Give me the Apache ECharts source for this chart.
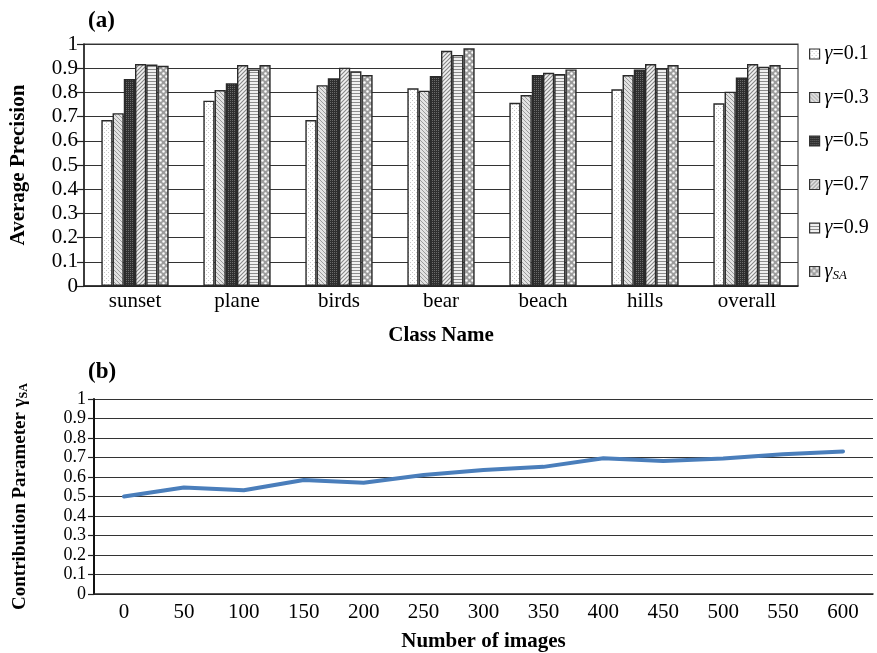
<!DOCTYPE html>
<html>
<head>
<meta charset="utf-8">
<script src="https://cdn.jsdelivr.net/npm/echarts@6/dist/echarts.min.js"></script>
<style>html,body{margin:0;padding:0;background:#fff;}#chart{width:877px;height:653px;}</style>
</head>
<body>
<div id="chart"></div>
<script>
// ---- data ----
const classNames = ['sunset', 'plane', 'birds', 'bear', 'beach', 'hills', 'overall'];
const g01 = [0.686, 0.766, 0.686, 0.817, 0.757, 0.813, 0.755];
const g03 = [0.714, 0.810, 0.830, 0.807, 0.789, 0.872, 0.803];
const g05 = [0.855, 0.838, 0.858, 0.868, 0.872, 0.895, 0.862];
const g07 = [0.917, 0.913, 0.902, 0.972, 0.881, 0.917, 0.917];
const g09 = [0.915, 0.895, 0.887, 0.955, 0.876, 0.900, 0.906];
const gSA = [0.910, 0.913, 0.872, 0.982, 0.895, 0.913, 0.913];
const seriesNames = ['g01', 'g03', 'g05', 'g07', 'g09', 'gSA'];
const legendLabels = {g01: '0.1', g03: '0.3', g05: '0.5', g07: '0.7', g09: '0.9'};

const imageCounts = ['0', '50', '100', '150', '200', '250', '300', '350', '400', '450', '500', '550', '600'];
const gammaSA = [0.50, 0.546, 0.532, 0.585, 0.571, 0.610, 0.636, 0.652, 0.696, 0.682, 0.695, 0.717, 0.731];

// ---- patterns ----
function pat(size, bg, draw) {
  const c = document.createElement('canvas');
  c.width = size; c.height = size;
  const ctx = c.getContext('2d');
  ctx.fillStyle = bg; ctx.fillRect(0, 0, size, size);
  draw(ctx, size);
  return {image: c, repeat: 'repeat'};
}
const patterns = [
  pat(4, '#ffffff', (ctx) => { ctx.fillStyle = '#c8c8c8'; ctx.fillRect(0, 0, 1, 1); ctx.fillRect(2, 2, 1, 1); }),
  pat(4, '#e2e2e2', (ctx) => { ctx.fillStyle = '#9a9a9a'; for (let i = 0; i < 4; i++) ctx.fillRect(i, i, 1, 1); }),
  pat(2, '#2e2e2e', (ctx) => { ctx.fillStyle = '#6a6a6a'; ctx.fillRect(0, 0, 1, 1); }),
  pat(4, '#d2d2d2', (ctx) => { ctx.fillStyle = '#8a8a8a'; for (let i = 0; i < 4; i++) ctx.fillRect(3 - i, i, 1, 1); ctx.fillStyle = '#f2f2f2'; for (let i = 0; i < 4; i++) ctx.fillRect((5 - i) % 4, i, 1, 1); }),
  pat(3, '#f0f0f0', (ctx) => { ctx.fillStyle = '#8c8c8c'; ctx.fillRect(0, 0, 3, 1); }),
  pat(6, '#9c9c9c', (ctx) => { ctx.fillStyle = '#ffffff'; ctx.beginPath(); ctx.arc(1.5, 1.5, 1.3, 0, Math.PI * 2); ctx.arc(4.5, 4.5, 1.3, 0, Math.PI * 2); ctx.fill(); })
];
const barData = [g01, g03, g05, g07, g09, gSA];

const serif = 'Liberation Serif';
const chart = echarts.init(document.getElementById('chart'));

const barSeries = barData.map((d, i) => ({
  name: seriesNames[i],
  type: 'bar',
  xAxisIndex: 0, yAxisIndex: 0,
  data: d,
  barGap: '0%',
  barCategoryGap: '34%',
  itemStyle: {color: patterns[i], borderColor: '#2a2a2a', borderWidth: 1.4},
  emphasis: {disabled: true},
  animation: false
}));

chart.setOption({
  animation: false,
  title: [
    {text: '(a)', left: 83, top: 5, textStyle: {fontFamily: serif, fontSize: 23, fontWeight: 'bold', color: '#000'}},
    {text: '(b)', left: 83, top: 356, textStyle: {fontFamily: serif, fontSize: 23, fontWeight: 'bold', color: '#000'}}
  ],
  legend: {
    orient: 'vertical',
    left: 804, top: 39,
    icon: 'rect',
    itemWidth: 10, itemHeight: 10,
    itemGap: 23.5,
    data: seriesNames,
    formatter: (n) => n === 'gSA' ? '{i|γ}{s|SA}' : '{i|γ}{n|=' + legendLabels[n] + '}',
    textStyle: {
      fontFamily: serif, fontSize: 20, color: '#000',
      rich: {
        i: {fontFamily: serif, fontStyle: 'italic', fontSize: 20, color: '#000'},
        n: {fontFamily: serif, fontSize: 20, color: '#000'},
        s: {fontFamily: serif, fontStyle: 'italic', fontSize: 13, color: '#000', verticalAlign: 'bottom', padding: [8, 0, 0, 0]}
      }
    },
    itemStyle: {borderColor: '#333', borderWidth: 1.2}
  },
  grid: [
    {left: 84, right: 79, top: 44, bottom: 367, show: true, borderColor: '#444', borderWidth: 1.2, backgroundColor: 'transparent'},
    {left: 94, right: 4, top: 399, bottom: 59}
  ],
  xAxis: [
    {
      type: 'category', gridIndex: 0, data: classNames,
      axisLine: {lineStyle: {color: '#222', width: 1.5}},
      axisTick: {show: false},
      axisLabel: {fontFamily: serif, fontSize: 21, color: '#000', margin: 5},
      name: 'Class Name', nameLocation: 'middle', nameGap: 39,
      nameTextStyle: {fontFamily: serif, fontSize: 21, fontWeight: 'bold', color: '#000'}
    },
    {
      type: 'category', gridIndex: 1, data: imageCounts, boundaryGap: true,
      axisLine: {lineStyle: {color: '#222', width: 1.5}},
      axisTick: {show: false},
      axisLabel: {fontFamily: serif, fontSize: 21, color: '#000', margin: 8},
      name: 'Number of images', nameLocation: 'middle', nameGap: 37,
      nameTextStyle: {fontFamily: serif, fontSize: 21, fontWeight: 'bold', color: '#000'}
    }
  ],
  yAxis: [
    {
      type: 'value', gridIndex: 0, min: 0, max: 1, interval: 0.1,
      axisLine: {show: true, lineStyle: {color: '#222', width: 1.5}},
      axisTick: {show: true, length: 7, lineStyle: {color: '#222', width: 1.2}},
      splitLine: {lineStyle: {color: '#333', width: 1.2}},
      axisLabel: {fontFamily: serif, fontSize: 21, color: '#000', margin: 6, showMinLabel: true, showMaxLabel: true},
      name: 'Average Precision', nameLocation: 'middle', nameGap: 55,
      nameTextStyle: {fontFamily: serif, fontSize: 21, fontWeight: 'bold', color: '#000'}
    },
    {
      type: 'value', gridIndex: 1, min: 0, max: 1, interval: 0.1,
      axisLine: {show: true, lineStyle: {color: '#111', width: 2}},
      axisTick: {show: true, length: 6, lineStyle: {color: '#222', width: 1.2}},
      splitLine: {lineStyle: {color: '#333', width: 1.2}},
      axisLabel: {fontFamily: serif, fontSize: 18, color: '#000', margin: 8, showMinLabel: true, showMaxLabel: true},
      name: '{b|Contribution Parameter γ}{s|SA}', nameLocation: 'middle', nameGap: 64,
      nameTextStyle: {
        fontFamily: serif, fontSize: 19, fontWeight: 'bold', color: '#000',
        rich: {
          b: {fontFamily: serif, fontSize: 19, fontWeight: 'bold', color: '#000'},
          s: {fontFamily: serif, fontSize: 12, fontWeight: 'bold', color: '#000', verticalAlign: 'bottom', padding: [7, 0, 0, 0]}
        }
      }
    }
  ],
  series: barSeries.concat([
    {
      type: 'line', xAxisIndex: 1, yAxisIndex: 1,
      data: gammaSA,
      showSymbol: false, symbol: 'none',
      lineStyle: {color: '#4a7ebb', width: 4, cap: 'round', join: 'round'},
      emphasis: {disabled: true}
    }
  ])
});
</script>
</body>
</html>
